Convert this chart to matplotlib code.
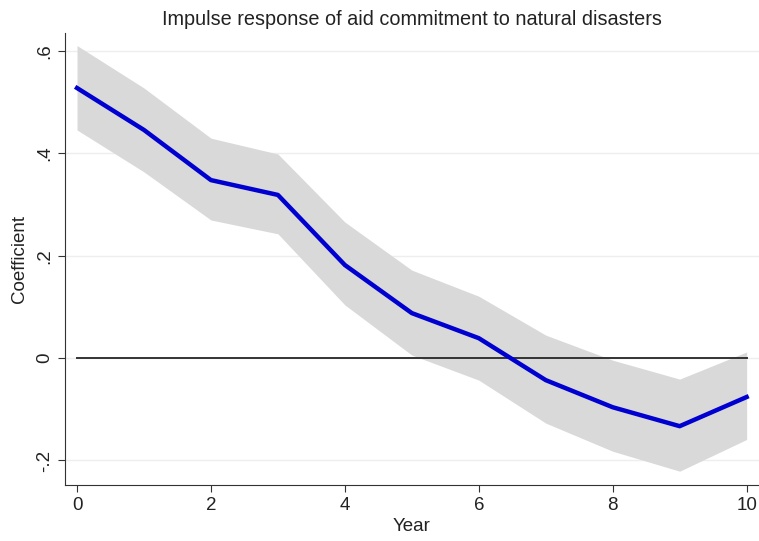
import numpy as np
import matplotlib
matplotlib.use("Agg")
import matplotlib.pyplot as plt

plt.rcParams['font.family'] = ['Liberation Sans', 'DejaVu Sans']
plt.rcParams['text.color'] = '#222222'
plt.rcParams['axes.labelcolor'] = '#222222'
plt.rcParams['xtick.labelcolor'] = '#222222'
plt.rcParams['ytick.labelcolor'] = '#222222'

years = [0, 1, 2, 3, 4, 5, 6, 7, 8, 9, 10]
coef = [0.528, 0.446, 0.348, 0.319, 0.182, 0.088, 0.039, -0.043, -0.096, -0.133, -0.076]
upper = [0.611, 0.528, 0.430, 0.399, 0.266, 0.172, 0.121, 0.045, -0.004, -0.041, 0.012]
lower = [0.446, 0.364, 0.270, 0.243, 0.104, 0.006, -0.043, -0.127, -0.182, -0.221, -0.159]
yticks = [-0.2, 0, 0.2, 0.4, 0.6]
ylabels = ['-.2', '0', '.2', '.4', '.6']
xticks = [0, 2, 4, 6, 8, 10]

fig = plt.figure(figsize=(7.59, 5.41), dpi=100)
ax = fig.add_axes([0.0856, 0.1035, 0.914, 0.835])

ax.fill_between(years, lower, upper, color='#d9d9d9', linewidth=0, zorder=1)
ax.plot([years[0], years[-1]], [0, 0], color='#333333', linewidth=1.4, zorder=2)
ax.plot(years, coef, color='#0000d0', linewidth=3.2, zorder=3)

ax.set_xlim(-0.18, 10.18)
ax.set_ylim(-0.248, 0.635)
ax.set_yticks(yticks)
ax.set_yticklabels(ylabels, rotation=90, va='center')
ax.set_xticks(xticks)
ax.grid(axis='y', color='#eeeeee', linewidth=1)
ax.set_axisbelow(True)
ax.tick_params(labelsize=13.5, color='#333333', length=5)

for s in ['top', 'right']:
    ax.spines[s].set_visible(False)
for s in ['left', 'bottom']:
    ax.spines[s].set_color('#333333')

ax.set_xlabel('Year', fontsize=13.5, labelpad=3)
ax.set_ylabel('Coefficient', fontsize=13.5, labelpad=6)
ax.set_title('Impulse response of aid commitment to natural disasters', fontsize=14.3, pad=6)

fig.savefig('out.png', dpi=100)
